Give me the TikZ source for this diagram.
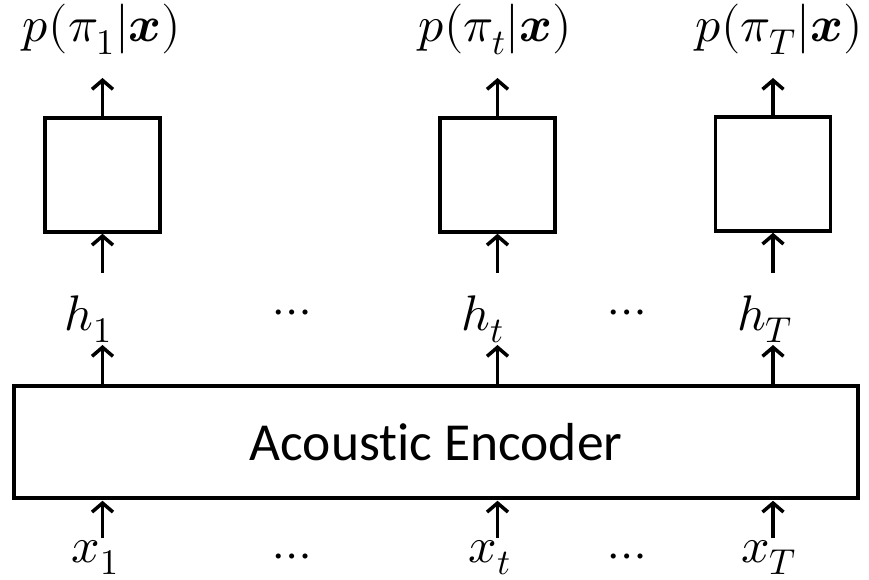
\documentclass[tikz,border=0pt]{standalone}
\usepackage{fontspec}
\usepackage{unicode-math}
\setmainfont{Carlito}[Ligatures=NoCommon]
\setmathfont{Latin Modern Math}
\usetikzlibrary{arrows.meta}
% subscripts for the index labels
\newcommand{\idx}[1]{_{\mbox{\fontsize{36}{38}\selectfont$#1$}}}
\begin{document}
\begin{tikzpicture}[x=1pt,y=-1pt,
  blk/.style={draw, line width=3.5pt, minimum width=115pt, minimum height=114pt, inner sep=0pt},
  arr/.style={-{Straight Barb[length=9pt,width=21pt,line width=3.5pt]}, line width=3.5pt},
  lbl/.style={anchor=base, inner sep=0pt, font=\fontsize{50}{54}\selectfont},
  dotsnode/.style={inner sep=0pt, font=\fontsize{48}{52}\selectfont}]
\useasboundingbox (0,0) rectangle (869,580);

% acoustic encoder
\node[draw, line width=3.5pt, minimum width=844pt, minimum height=112pt, inner sep=0pt,
      font=\fontsize{53.5}{60}\selectfont] (enc) at (436,442) {Acoustic Encoder};

% output blocks
\node[blk] (b1) at (102.5,175) {};
\node[blk] (bt) at (497.5,175) {};
\node[blk] (bT) at (773,174) {};

% output distributions
\node[lbl] (p1) at (102,42) {$p(\pi\idx{1}|\symbfit{x})$};
\node[lbl] (pt) at (495,42) {$p(\pi\idx{t}|\symbfit{x})$};
\node[lbl] (pT) at (779,42) {$p(\pi\idx{T}|\symbfit{x})$};

% hidden states
\node[lbl] (h1) at (88,330) {$h\idx{1}$};
\node[lbl] (ht) at (483,330) {$h\idx{t}$};
\node[lbl] (hT) at (765,330) {$h\idx{T}$};
\node[dotsnode] (hd1) at (292,317) {$\cdots$};
\node[dotsnode] (hd2) at (627,317) {$\cdots$};

% inputs
\node[lbl] (x1) at (95,562) {$x\idx{1}$};
\node[lbl] (xt) at (490,562) {$x\idx{t}$};
\node[lbl] (xT) at (769,562) {$x\idx{T}$};
\node[dotsnode] (xd1) at (292,561) {$\cdots$};
\node[dotsnode] (xd2) at (627,561) {$\cdots$};

% inputs into the encoder, states up to the output blocks
\foreach \c in {1,t,T}{
  \draw[arr, shorten <=24pt, shorten >=1pt] (b\c.south |- x\c.base) -- (enc.south -| b\c.south);
  \draw[arr, shorten >=15pt] (enc.north -| b\c.south) -- (b\c.south |- h\c.base);
  \draw[arr, shorten <=57pt] (b\c.south |- h\c.base) -- (b\c.south);
  \draw[arr, shorten >=36pt] (b\c.north) -- (b\c.north |- p\c.base);
}
\end{tikzpicture}
\end{document}
